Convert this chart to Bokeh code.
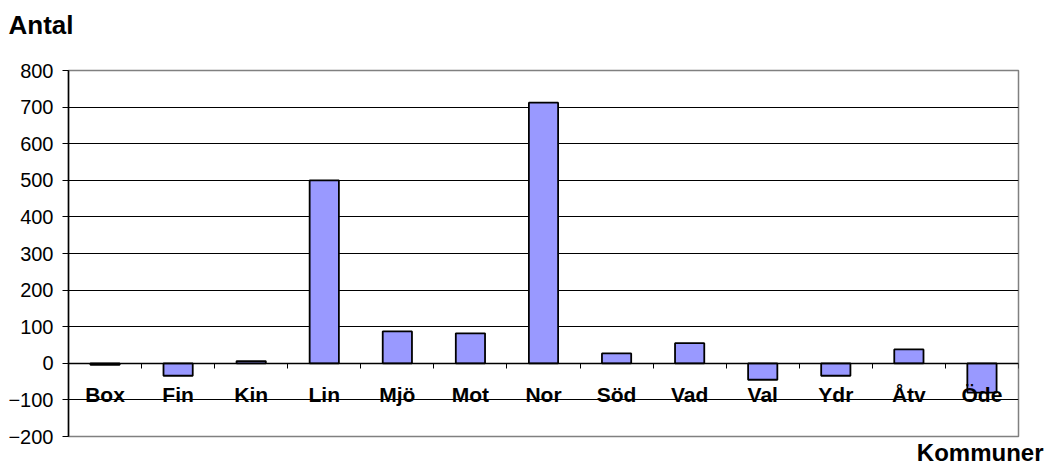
from bokeh.plotting import figure
from bokeh.models import FixedTicker, Range1d, Title
from bokeh.embed import file_html
from bokeh.resources import INLINE

kommuner = ["Box", "Fin", "Kin", "Lin", "Mjö", "Mot", "Nor", "Söd", "Vad", "Val", "Ydr", "Åtv", "Öde"]
antal = [-4, -34, 6, 500, 87, 82, 712, 27, 55, -45, -34, 38, -80]
y_ticks = [-200, -100, 0, 100, 200, 300, 400, 500, 600, 700, 800]

n = len(kommuner)
xs = list(range(n))
y0, y1 = y_ticks[0], y_ticks[-1]

p = figure(width=1050, height=466, output_backend="svg", toolbar_location=None,
           x_range=Range1d(-0.5, n - 0.5), y_range=Range1d(y0, y1),
           min_border_left=68, min_border_right=32, min_border_top=70, min_border_bottom=29)

p.vbar(x=xs, top=antal, bottom=0, width=0.4, fill_color="#9999FF",
       line_color="black", line_width=1.8)

FONT = "Liberation Sans"

# x axis at zero
xa = p.xaxis[0]
xa.fixed_location = 0
xa.ticker = FixedTicker(ticks=xs, minor_ticks=[i - 0.5 for i in range(n + 1)])
xa.major_label_overrides = {i: k for i, k in enumerate(kommuner)}
xa.major_tick_out = 0
xa.major_tick_in = 0
xa.minor_tick_out = 5
xa.minor_tick_in = 0
xa.minor_tick_line_color = "black"
xa.axis_line_color = "black"
xa.axis_line_width = 1.5
xa.major_label_standoff = 15
xa.major_label_text_font = FONT
xa.major_label_text_font_style = "bold"
xa.major_label_text_font_size = "21px"
xa.major_label_text_color = "black"

ya = p.yaxis[0]
ya.ticker = FixedTicker(ticks=y_ticks)
ya.major_tick_out = 6
ya.major_tick_in = 0
ya.minor_tick_line_color = None
ya.axis_line_color = "black"
ya.axis_line_width = 1.5
ya.major_tick_line_color = "black"
ya.major_label_standoff = 9
ya.major_label_text_font = FONT
ya.major_label_text_font_size = "20px"
ya.major_label_text_color = "black"

p.xgrid.grid_line_color = None
p.ygrid.grid_line_color = "black"
p.ygrid.grid_line_width = 1
p.ygrid.ticker = FixedTicker(ticks=y_ticks)

p.outline_line_color = "#808080"
p.outline_line_width = 1.5
p.background_fill_color = "white"
p.border_fill_color = "white"

# spacer title (closest to frame), then the y-axis caption above it
p.add_layout(Title(text=" ", standoff=28, text_font_size="1px"), "above")
p.add_layout(Title(text="Antal", align="left", offset=-60, standoff=0,
                   text_font=FONT, text_font_style="bold", text_font_size="26px",
                   text_color="black"), "above")
p.add_layout(Title(text="Kommuner", align="right", offset=-25, standoff=1,
                   text_font=FONT, text_font_style="bold", text_font_size="24px",
                   text_color="black"), "below")

open("out.html", "w").write(file_html(p, INLINE))
